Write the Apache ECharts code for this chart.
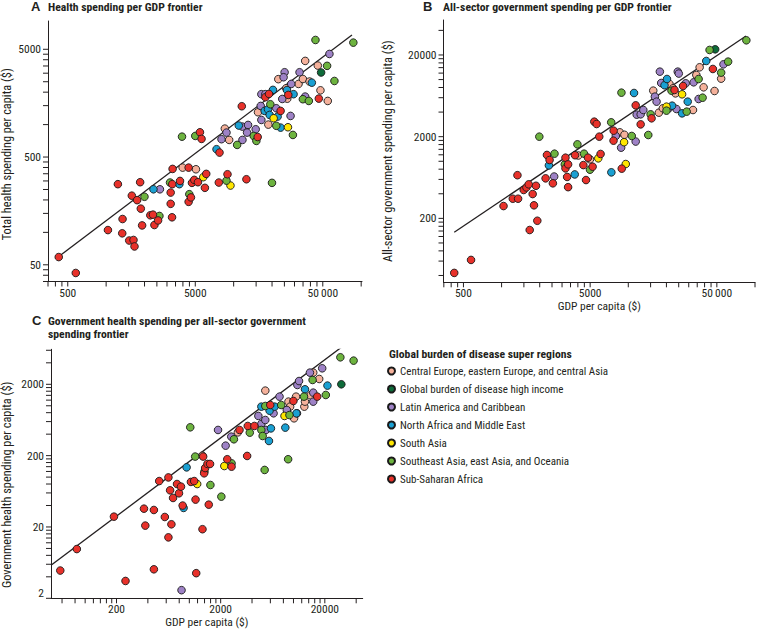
<!DOCTYPE html>
<html><head><meta charset="utf-8">
<script src="https://cdn.jsdelivr.net/npm/echarts@6/dist/echarts.min.js"></script>
<style>html,body{margin:0;padding:0;background:#fff}#chart{width:758px;height:630px}</style>
</head><body><div id="chart"></div>
<script>
// ---------------- DATA ----------------
const regionNames = [
  'Central Europe, eastern Europe, and central Asia',
  'Global burden of disease high income',
  'Latin America and Caribbean',
  'North Africa and Middle East',
  'South Asia',
  'Southeast Asia, east Asia, and Oceania',
  'Sub-Saharan Africa'
];

// Panel A: [GDP per capita ($), total health spending per capita ($)]
const healthGdpCentralEurope = [[3980,399],[5060,385],[8530,918],[9220,721],[15520,1302],[18700,1000],[22390,2640],[25850,2175],[26330,1740],[32280,2385],[34900,2650],[36390,3900],[39350,2510],[45700,3530],[47940,2080],[54700,1658]];
const healthGdpHighIncome = [[48500,3045]];
const healthGdpLatinAmerica = [[2640,251],[8030,732],[8785,843],[11720,958],[11720,721],[12970,993],[12740,843],[14890,905],[16300,1490],[16490,1105],[16490,1915],[17720,1915],[21590,1418],[25090,3060],[24640,2750],[27940,1204],[28290,2385],[32860,3060],[36390,1820],[56360,4525],[24050,1730]];
const healthGdpNorthAfrica = [[2350,251],[3750,280],[7340,591],[10970,980],[17500,1340],[18590,1385],[19150,1230],[20330,2100],[22120,1187],[23340,938],[26170,2090],[29500,1915],[41020,2450]];
const healthGdpSouthAsia = [[5775,325],[9440,272],[20590,1145],[26660,945]];
const healthGdpSoutheastAsia = [[1998,214],[2617,142],[3170,290],[3935,773],[4490,226],[5000,785],[8785,302],[10650,648],[14360,785],[15070,706],[19390,1545],[19980,288],[21590,975],[29150,802],[34900,1720],[38860,1658],[43810,6100],[54050,3510],[61700,2540],[86800,5765]];
const healthGdpSubSaharan = [[425,59],[578,42],[1033,105],[1337,98],[1345,133],[1236,280],[1517,84],[1639,85],[1669,74],[1590,219],[1750,199],[1848,292],[1870,166],[1915,116],[2220,144],[2330,146],[2391,117],[2555,129],[3287,138],[3207,184],[3207,234],[3300,280],[3320,388],[3795,300],[4435,399],[4435,192],[4625,211],[4710,288],[4910,307],[5245,292],[5440,849],[5600,737],[5950,259],[6095,349],[7650,290],[7745,550],[8945,346],[11580,1480],[12590,311],[15430,767],[17720,1795],[18930,1925],[23340,1340],[26820,1885],[46540,1743]];
const healthGdpFrontier = [[425,59.7],[84700,6790]];

// Panel B: [GDP per capita ($), all-sector government spending per capita ($)]
const govGdpCentralEurope = [[4037,1176],[4985,1055],[8570,2260],[9320,2110],[15740,7318],[17430,3935],[18740,4450],[21150,8830],[22590,7815],[23560,6780],[32410,4240],[34430,11380],[36560,14130],[39300,8040],[47930,7250],[54060,10260]];
const govGdpHighIncome = [[48500,23460]];
const govGdpLatinAmerica = [[2600,650],[7970,2040],[8780,1467],[11440,1743],[11650,3720],[12520,3754],[13140,4240],[16220,6180],[16720,5366],[17750,12500],[18190,9080],[23990,4364],[24570,12500],[25030,11840],[28390,9000],[32800,9255],[35900,5785],[56400,15370],[20890,4450]];
const govGdpNorthAfrica = [[2363,890],[3778,690],[7350,732],[11100,6850],[19310,8520],[20200,10160],[22180,4790],[26580,3860],[29440,5366],[41240,16890]];
const govGdpSouthAsia = [[5795,1086],[9265,1712],[9550,925],[20020,4660],[26580,6600]];
const govGdpSoutheastAsia = [[1985,2000],[2616,1238],[3155,916],[3966,1611],[4475,1238],[4985,788],[7330,2997],[8830,6915],[10650,2040],[14380,2096],[15000,3754],[20020,4164],[21920,7318],[28900,4050],[35900,10160],[38600,6000],[43800,23030],[54060,12150],[61350,16580],[85450,30240]];
const govGdpSubSaharan = [[423,43],[574,62],[1036,283],[1226,348],[1350,348],[1334,675],[1495,445],[1570,478],[1637,522],[1759,397],[1802,289],[1868,501],[1667,144],[1914,187],[2225,618],[2280,1195],[2392,1036],[2540,537],[3193,1106],[3193,819],[3290,643],[3350,916],[3350,482],[3800,1185],[4420,898],[4638,589],[4808,1106],[5230,858],[5390,3054],[5623,2858],[5900,2000],[6045,1228],[7645,1786],[7665,2368],[8880,812],[11440,4837],[12520,2830],[15270,3354],[23160,7460],[27060,8345],[46520,13480]];
const govGdpFrontier = [[423,135],[84900,34200]];

// Panel C: [GDP per capita ($), government health spending per capita ($)]
const ghsCentralEurope = [[1338,200],[2925,424],[5365,1630],[8950,1143],[9284,972],[10130,667],[10590,1343],[12710,972],[12900,1143],[14600,1402],[15480,2915],[17660,2376]];
const ghsHighIncome = [[28800,2000]];
const ghsLatinAmerica = [[842,2.6],[1887,458],[2232,276],[2528,369],[4602,720],[4916,556],[5365,632],[5440,458],[6442,784],[7348,1343],[8630,873],[10900,1957],[11310,2222],[14390,2915],[15480,1528],[15480,1143],[18870,3352],[10800,784]];
const ghsNorthAfrica = [[881,37],[942,137],[4916,972],[5900,853],[5817,321],[6075,482],[6600,972],[8350,494],[10670,784],[12900,1702],[21200,1918]];
const ghsSouthAsia = [[1190,80],[1398,120],[2168,143],[8200,720]];
const ghsSoutheastAsia = [[1021,499],[1139,194],[1594,77.5],[2030,53.2],[2545,156],[2680,339],[3806,420],[4916,458],[5060,377],[5288,126],[5365,993],[7622,1026],[8886,178],[9150,741],[12620,1343],[15260,2300],[20440,1417],[28200,4780],[37780,4294]];
const ghsSubSaharan = [[57.7,4.9],[83.2,9.8],[189,27.9],[244,3.5],[367,36.1],[378,20.9],[457,34.6],[457,5.1],[514,88],[582,27.6],[630,99],[630,14.3],[654,65.3],[673,21.8],[698,51],[762,80],[796,59.3],[832,73.5],[863,39.9],[1036,85.6],[1114,88],[1148,48.4],[1165,4.5],[1338,18.6],[1358,194],[1388,113],[1419,134],[1493,153],[1537,41.1],[1582,153],[2314,178],[2545,140],[3590,198],[3034,458],[3640,521],[4216,521],[5988,1026],[9986,1168],[16900,1343]];
const ghsFrontier = [[47,5.8],[28820,6600]];

// Tick labels
const aXLabels = [500, 5000, 50000];
const aYLabels = [50, 500, 5000];
const bXLabels = [500, 5000, 50000];
const bYLabels = [200, 2000, 20000];
const cXLabels = [200, 2000, 20000];
const cYLabels = [2, 20, 200, 2000];

// ---------------- STYLE / LAYOUT ----------------
const FONT = "'Liberation Sans Narrow', 'Roboto Condensed', 'Open Sans', sans-serif";
const INK = '#231f20';
const regionColors = ['#F5B19B', '#0E6B3A', '#9E82C6', '#1AA0D2', '#FFE600', '#6DB33F', '#E8312A'];

const panels = [
  { grid:{left:47.5, top:21, width:314.5, height:260.5}, xRange:[350,101500], yRange:[35,9150],
    xLabels:aXLabels, yLabels:aYLabels, xName:'', yName:'Total health spending per capita ($)', yNameGap:35, yNamePad:[0,6,0,0],
    sets:[healthGdpCentralEurope,healthGdpHighIncome,healthGdpLatinAmerica,healthGdpNorthAfrica,healthGdpSouthAsia,healthGdpSoutheastAsia,healthGdpSubSaharan],
    frontier:healthGdpFrontier },
  { grid:{left:443.5, top:20, width:313, height:262.3}, xRange:[348,100000], yRange:[33,53600],
    xLabels:bXLabels, yLabels:bYLabels, xName:'GDP per capita ($)', yName:'All-sector government spending per capita ($)', yNameGap:50, yNamePad:[0,0,0,0],
    sets:[govGdpCentralEurope,govGdpHighIncome,govGdpLatinAmerica,govGdpNorthAfrica,govGdpSouthAsia,govGdpSoutheastAsia,govGdpSubSaharan],
    frontier:govGdpFrontier },
  { grid:{left:48.3, top:349.3, width:314.4, height:249}, xRange:[47,46200], yRange:[2,6190],
    xLabels:cXLabels, yLabels:cYLabels, xName:'GDP per capita ($)', yName:'Government health spending per capita ($)', yNameGap:38, yNamePad:[0,22,0,0],
    sets:[ghsCentralEurope,ghsHighIncome,ghsLatinAmerica,ghsNorthAfrica,ghsSouthAsia,ghsSoutheastAsia,ghsSubSaharan],
    frontier:ghsFrontier, raiseMinLabel:true }
];

// log axes labelled at k*10^n: plot in units of k so that labels sit on decades
function factorOf(labels){ const v = labels[0]; return v / Math.pow(10, Math.floor(Math.log10(v) + 1e-9)); }
function fmtNum(n){ return n >= 50000 ? String(n).replace(/(\d+)(\d{3})$/, '$1\u2009$2') : String(n); }
function tickValues(lo, hi){
  const out = [];
  for (let e = Math.floor(Math.log10(lo)) - 1; e <= Math.ceil(Math.log10(hi)); e++)
    for (let m = 1; m <= 9; m++){ const v = m * Math.pow(10, e); if (v >= lo * 0.9999 && v <= hi * 1.0001) out.push(v); }
  return out;
}

const grids = [], xAxes = [], yAxes = [], series = [];
panels.forEach((p, i) => {
  const fx = factorOf(p.xLabels), fy = factorOf(p.yLabels);
  const xMin = p.xRange[0]/fx, xMax = p.xRange[1]/fx, yMin = p.yRange[0]/fy, yMax = p.yRange[1]/fy;
  grids.push(Object.assign({containLabel:false}, p.grid));
  const labelFmt = (labels, f, isY) => v => {
    const real = v * f;
    const hit = labels.find(l => Math.abs(real / l - 1) < 1e-6);
    if (hit === undefined) return '';
    if (isY && p.raiseMinLabel && hit === labels[0]) return '{low|' + fmtNum(hit) + '}';
    return fmtNum(hit);
  };
  const common = {
    type:'log', logBase:10, gridIndex:i, splitLine:{show:false}, axisTick:{show:false}, minorTick:{show:false},
    axisLine:{show:true, onZero:false, lineStyle:{color:INK, width:1}},
    nameLocation:'middle'
  };
  xAxes.push(Object.assign({}, common, {
    min:xMin, max:xMax, name:p.xName, nameGap:16.5,
    nameTextStyle:{fontFamily:FONT, fontSize:11.5, color:INK},
    axisLabel:{color:INK, fontFamily:FONT, fontSize:11.5, margin:5, formatter:labelFmt(p.xLabels, fx, false)}
  }));
  yAxes.push(Object.assign({}, common, {
    min:yMin, max:yMax, name:p.yName, nameGap:p.yNameGap,
    nameTextStyle:{fontFamily:FONT, fontSize:12.3, color:INK, padding:p.yNamePad},
    axisLabel:{color:INK, fontFamily:FONT, fontSize:11.5, margin:7, formatter:labelFmt(p.yLabels, fy, true),
      rich:{low:{fontFamily:FONT, fontSize:11.5, color:INK, padding:[0,0,10,0]}}}
  }));
  // frontier line
  series.push({type:'line', xAxisIndex:i, yAxisIndex:i, data:p.frontier.map(d => [d[0]/fx, d[1]/fy]),
    symbol:'none', lineStyle:{color:INK, width:1.3}, silent:true, z:2});
  // scatter points by region
  p.sets.forEach((set, r) => {
    series.push({type:'scatter', name:regionNames[r], xAxisIndex:i, yAxisIndex:i, clip:false,
      data:set.map(d => [d[0]/fx, d[1]/fy]), symbolSize:7.6,
      itemStyle:{color:regionColors[r], borderColor:'#1a1a1a', borderWidth:0.9, opacity:1}, z:3});
  });
  // log ticks (1..9 x 10^n in plotted units)
  series.push({type:'custom', xAxisIndex:i, yAxisIndex:i, silent:true, clip:false, z:4,
    data:tickValues(xMin, xMax).map(v => [v, yMin]),
    renderItem:(params, api) => { const cs = params.coordSys; const pt = api.coord([api.value(0), api.value(1)]); const y0 = cs.y + cs.height;
      return {type:'line', shape:{x1:pt[0], y1:y0, x2:pt[0], y2:y0 + 5}, style:{stroke:INK, lineWidth:1}}; }});
  series.push({type:'custom', xAxisIndex:i, yAxisIndex:i, silent:true, clip:false, z:4,
    data:tickValues(yMin, yMax).map(v => [xMin, v]),
    renderItem:(params, api) => { const cs = params.coordSys; const pt = api.coord([api.value(0), api.value(1)]); const x0 = cs.x;
      return {type:'line', shape:{x1:x0 - 5, y1:pt[1], x2:x0, y2:pt[1]}, style:{stroke:INK, lineWidth:1}}; }});
});

const titleBold = {fontFamily:FONT, fontWeight:'bold', fontSize:11.7, color:INK, lineHeight:13};
const letterStyle = {fontFamily:"'Liberation Sans', Arial, sans-serif", fontWeight:'bold', fontSize:13, color:INK, lineHeight:13};

const option = {
  animation:false,
  backgroundColor:'#fff',
  title:[
    {text:'A', left:31, top:0, padding:0, textStyle:letterStyle},
    {text:'Health spending per GDP frontier', left:48, top:0, padding:0, textStyle:titleBold},
    {text:'B', left:423, top:0, padding:0, textStyle:letterStyle},
    {text:'All-sector government spending per GDP frontier', left:443, top:0, padding:0, textStyle:titleBold},
    {text:'C', left:32, top:314, padding:0, textStyle:letterStyle},
    {text:'Government health spending per all-sector government\nspending frontier', left:48, top:314.5, padding:0, textStyle:titleBold},
    {text:'Global burden of disease super regions', left:389, top:347, padding:0, textStyle:titleBold}
  ],
  legend:{orient:'vertical', left:387, top:365, padding:0, itemWidth:7, itemHeight:7, itemGap:6, icon:'circle',
    selectedMode:false, data:regionNames,
    textStyle:{fontFamily:FONT, fontSize:11, color:INK, lineHeight:12}},
  grid:grids, xAxis:xAxes, yAxis:yAxes, series:series
};

const chart = echarts.init(document.getElementById('chart'), null, {renderer:'svg'});
chart.setOption(option);
</script>
</body></html>
